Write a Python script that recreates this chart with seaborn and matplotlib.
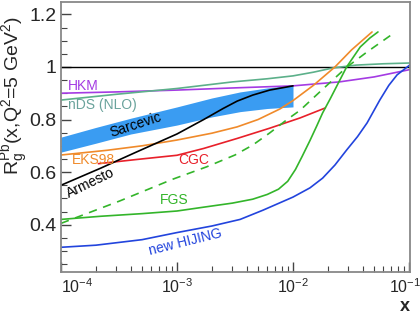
import numpy as np
import pandas as pd
import seaborn as sns
import matplotlib.pyplot as plt
from matplotlib.ticker import FixedLocator, FixedFormatter, LogLocator, MultipleLocator
from matplotlib.transforms import ScaledTranslation

# curves (x is Bjorken x, y is R_g^Pb)
hkm_x = [1e-4, 3e-4, 1e-3, 3e-3, 1e-2, 2.5e-2, 5e-2, 0.102]
hkm_y = [0.900, 0.905, 0.912, 0.920, 0.928, 0.943, 0.962, 0.990]

nds_x = [1e-4, 3e-4, 1e-3, 3e-3, 6e-3, 1e-2, 1.5e-2, 2.2e-2, 3.5e-2, 6e-2, 0.102]
nds_y = [0.874, 0.896, 0.918, 0.943, 0.955, 0.966, 0.980, 0.996, 1.007, 1.012, 1.015]

sarc_x = [1e-4, 2e-4, 4e-4, 1e-3, 2e-3, 3.5e-3, 6e-3, 1e-2]
sarc_hi = [0.733, 0.770, 0.805, 0.848, 0.882, 0.905, 0.920, 0.931]
sarc_lo = [0.676, 0.710, 0.745, 0.779, 0.810, 0.830, 0.842, 0.848]

arm_x = [1e-4, 2.2e-4, 4.4e-4, 1e-3, 1.7e-3, 2.5e-3, 3.3e-3, 4.5e-3, 6.3e-3, 1e-2]
arm_y = [0.550, 0.615, 0.675, 0.745, 0.800, 0.842, 0.870, 0.893, 0.912, 0.928]

eks_x = [1e-4, 2.5e-4, 5e-4, 1e-3, 2e-3, 3.3e-3, 5e-3, 7.7e-3, 1e-2, 1.5e-2, 2.3e-2, 3.2e-2, 4.8e-2]
eks_y = [0.665, 0.683, 0.700, 0.722, 0.748, 0.772, 0.800, 0.840, 0.872, 0.930, 1.000, 1.065, 1.133]

cgc_x = [2.1e-4, 4.5e-4, 1e-3, 1.7e-3, 3.3e-3, 6.3e-3, 1.15e-2, 1.9e-2]
cgc_y = [0.632, 0.648, 0.664, 0.690, 0.728, 0.767, 0.806, 0.844]

fgs_x = [1e-4, 2.2e-4, 5e-4, 1e-3, 1.6e-3, 3e-3, 4.5e-3, 6e-3, 7.5e-3, 9e-3, 1.05e-2,
         1.2e-2, 1.4e-2, 1.6e-2, 1.8e-2, 2.1e-2, 2.5e-2, 2.9e-2, 3.8e-2, 4.6e-2, 5.4e-2]
fgs_y = [0.420, 0.432, 0.442, 0.452, 0.465, 0.482, 0.497, 0.515, 0.535, 0.565, 0.610,
         0.660, 0.720, 0.775, 0.825, 0.880, 0.945, 1.000, 1.076, 1.110, 1.133]

fgs2_x = [1e-4, 3.2e-4, 9.2e-4, 1.8e-3, 3.16e-3, 4.5e-3, 6.3e-3, 8.9e-3, 1.15e-2, 1.8e-2,
          2.92e-2, 4.35e-2, 7.2e-2]
fgs2_y = [0.405, 0.490, 0.573, 0.620, 0.665, 0.703, 0.749, 0.800, 0.835, 0.915,
          1.000, 1.057, 1.125]

hij_x = [1e-4, 2e-4, 5e-4, 1e-3, 2e-3, 3.5e-3, 5.5e-3, 1e-2, 1.4e-2, 1.8e-2, 2.3e-2,
         2.9e-2, 3.6e-2, 4.35e-2, 5.6e-2, 6.7e-2, 7.9e-2, 0.102]
hij_y = [0.314, 0.322, 0.343, 0.370, 0.395, 0.420, 0.455, 0.505, 0.540, 0.577, 0.627,
         0.684, 0.735, 0.787, 0.874, 0.930, 0.970, 1.008]

y_ticks = [0.4, 0.6, 0.8, 1.0, 1.2]
y_ticklabels = ['0.4', '0.6', '0.8', '1', '1.2']
x_ticks = [1e-4, 1e-3, 1e-2, 1e-1]
x_ticklabels = ['$10^{-4}$', '$10^{-3}$', '$10^{-2}$', '$10^{-1}$']

c_hkm = '#a43be3'
c_nds = '#5cb08a'
c_sarc = '#3a9cf2'
c_eks = '#f08a2a'
c_cgc = '#e8202a'
c_fgs = '#33b52a'
c_hij = '#2244dd'

sns.set_style('ticks')
plt.rcParams['font.family'] = ['Liberation Sans', 'DejaVu Sans']
plt.rcParams['mathtext.fontset'] = 'custom'
plt.rcParams['mathtext.rm'] = 'Liberation Sans'
plt.rcParams['mathtext.default'] = 'regular'

fig = plt.figure(figsize=(4.2, 3.16), dpi=100)
ax = fig.add_axes([61 / 420, 44 / 316, 349 / 420, 270 / 316])

ax.axhline(1.0, color='black', lw=1.0)

# Sarcevic band
ax.fill_between(sarc_x, sarc_lo, sarc_hi, color=c_sarc, lw=0)

lw = 1.2
sns.lineplot(x=hkm_x, y=hkm_y, color=c_hkm, lw=lw, ax=ax)
sns.lineplot(x=nds_x, y=nds_y, color=c_nds, lw=lw, ax=ax)
sns.lineplot(x=eks_x, y=eks_y, color=c_eks, lw=lw, ax=ax)
sns.lineplot(x=cgc_x, y=cgc_y, color=c_cgc, lw=lw, ax=ax)
sns.lineplot(x=arm_x, y=arm_y, color='black', lw=lw, ax=ax)
sns.lineplot(x=fgs_x, y=fgs_y, color=c_fgs, lw=lw, ax=ax)
sns.lineplot(x=fgs2_x, y=fgs2_y, color=c_fgs, lw=lw, linestyle=(0, (5, 4)), ax=ax)
sns.lineplot(x=hij_x, y=hij_y, color=c_hij, lw=lw, ax=ax)

ax.set_xscale('log')
ax.set_xlim(1e-4, 0.102)
ax.set_ylim(0.22, 1.247)

# curve labels
fs = 10
ax.text(1.15e-4, 0.928, 'HKM', color=c_hkm, fontsize=fs, ha='left', va='center')
ax.text(1.15e-4, 0.855, 'nDS (NLO)', color='#6aa39c', fontsize=fs, ha='left', va='center')
ax.text(4.4e-4, 0.779, 'Sarcevic', color='black', fontsize=fs, ha='center', va='center',
        rotation=18)
ax.text(1.24e-4, 0.646, 'EKS98', color=c_eks, fontsize=fs, ha='left', va='center')
ax.text(1.8e-4, 0.558, 'Armesto', color='black', fontsize=fs, ha='center', va='center',
        rotation=26)
ax.text(1.4e-3, 0.646, 'CGC', color=c_cgc, fontsize=fs, ha='center', va='center')
ax.text(9.4e-4, 0.493, 'FGS', color=c_fgs, fontsize=fs, ha='center', va='center')
ax.text(1.17e-3, 0.333, 'new HIJING', color=c_hij, fontsize=fs, ha='center', va='center',
        rotation=14)

# ticks
ax.yaxis.set_major_locator(FixedLocator(y_ticks))
ax.yaxis.set_major_formatter(FixedFormatter(y_ticklabels))
ax.yaxis.set_minor_locator(MultipleLocator(0.05))
ax.xaxis.set_major_locator(FixedLocator(x_ticks))
ax.xaxis.set_major_formatter(FixedFormatter(x_ticklabels))
ax.xaxis.set_minor_locator(LogLocator(base=10, subs=np.arange(2, 10), numticks=20))
ax.tick_params(which='both', direction='in', top=False, right=False, color='#444444')
ax.tick_params(which='major', length=7, width=1.0)
ax.tick_params(which='minor', length=4, width=0.8)
ax.tick_params(axis='y', labelsize=14, pad=3)
ax.tick_params(axis='x', labelsize=11.5, pad=4)
xlabels = ax.get_xticklabels()
xlabels[0].set_horizontalalignment('left')
# pull the last label in a little so it stays inside the figure
xlabels[-1].set_transform(xlabels[-1].get_transform()
                          + ScaledTranslation(-3 / 72, 0, fig.dpi_scale_trans))

for s in ax.spines.values():
    s.set_color('#888888')
    s.set_linewidth(1.3)

ax.set_xlabel('x', fontsize=13, fontweight='bold', loc='right', labelpad=1)
ax.set_ylabel('R$_g^{Pb}$(x,Q$^2$=5 GeV$^2$)', fontsize=14)
ax.yaxis.set_label_coords(-0.085, 0.655)

fig.savefig('out.png', dpi=100)
